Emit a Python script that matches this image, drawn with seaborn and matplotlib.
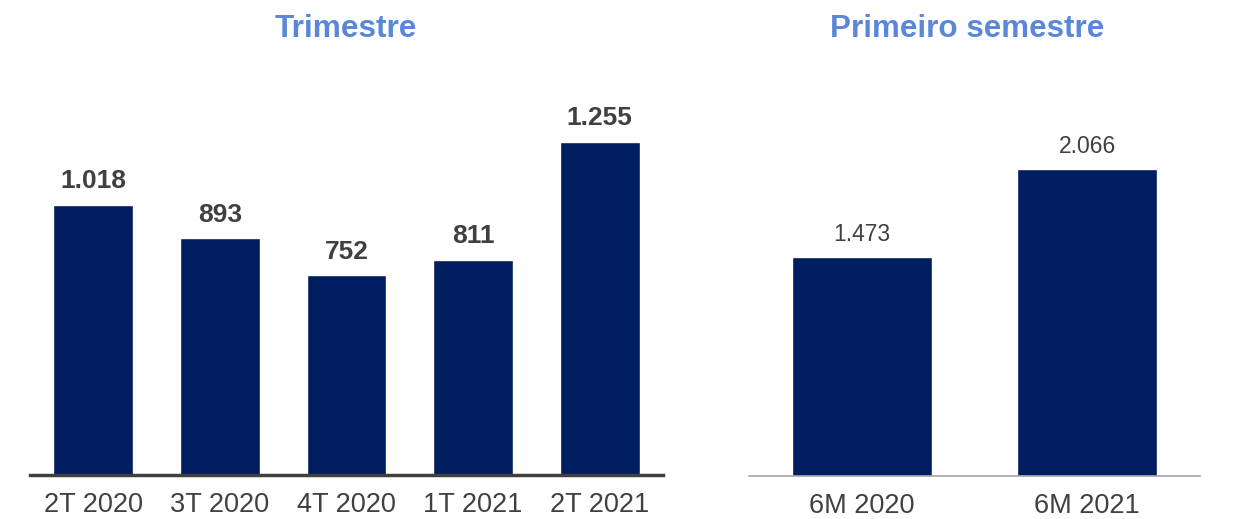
import matplotlib
matplotlib.use("Agg")
import matplotlib.pyplot as plt
import pandas as pd
import seaborn as sns

sns.set_theme(style="white")
plt.rcParams["font.family"] = ["Liberation Sans", "DejaVu Sans"]

# dados
trimestres = ["2T 2020", "3T 2020", "4T 2020", "1T 2021", "2T 2021"]
valores_tri = [1018, 893, 752, 811, 1255]

semestres = ["6M 2020", "6M 2021"]
valores_sem = [1473, 2066]

bar_color = "#001E5F"
title_color = "#5B87D9"
text_color = "#404040"


def fmt(v):
    return f"{v:,}".replace(",", ".")


fig = plt.figure(figsize=(12.48, 5.19), dpi=100)
ax1 = fig.add_axes([0.0240, 0.0848, 0.5072, 0.80])
ax2 = fig.add_axes([0.6002, 0.0829, 0.3614, 0.80])

df1 = pd.DataFrame({"periodo": trimestres, "valor": valores_tri})
df2 = pd.DataFrame({"periodo": semestres, "valor": valores_sem})

sns.barplot(data=df1, x="periodo", y="valor", color=bar_color, saturation=1,
            width=0.63, ax=ax1)
sns.barplot(data=df2, x="periodo", y="valor", color=bar_color, saturation=1,
            width=0.62, ax=ax2)

ax1.set_ylim(0, 1563)
ax2.set_ylim(0, 2796)

for ax, vals, bold, lw, lc in [
    (ax1, valores_tri, True, 2.5, "#404040"),
    (ax2, valores_sem, False, 1.2, "#A6A6A6"),
]:
    ax.set_xlabel("")
    ax.set_ylabel("")
    ax.set_yticks([])
    for s in ["top", "right", "left"]:
        ax.spines[s].set_visible(False)
    ax.spines["bottom"].set_color(lc)
    ax.spines["bottom"].set_linewidth(lw)
    ax.tick_params(axis="x", length=0, pad=12, labelsize=19.5, labelcolor=text_color)
    ax.set_facecolor("none")
    for b, v in zip(ax.patches, vals):
        ax.annotate(
            fmt(v),
            (b.get_x() + b.get_width() / 2, b.get_height()),
            xytext=(0, 8),
            textcoords="offset points",
            ha="center",
            va="bottom",
            fontsize=19 if bold else 16.5,
            fontweight="bold" if bold else "normal",
            color=text_color,
        )

fig.text(0.277, 0.945, "Trimestre", ha="center", va="center", fontsize=22.8,
         fontweight="bold", color=title_color)
fig.text(0.775, 0.945, "Primeiro semestre", ha="center", va="center", fontsize=22.6,
         fontweight="bold", color=title_color)

fig.savefig("out.png", dpi=100)
